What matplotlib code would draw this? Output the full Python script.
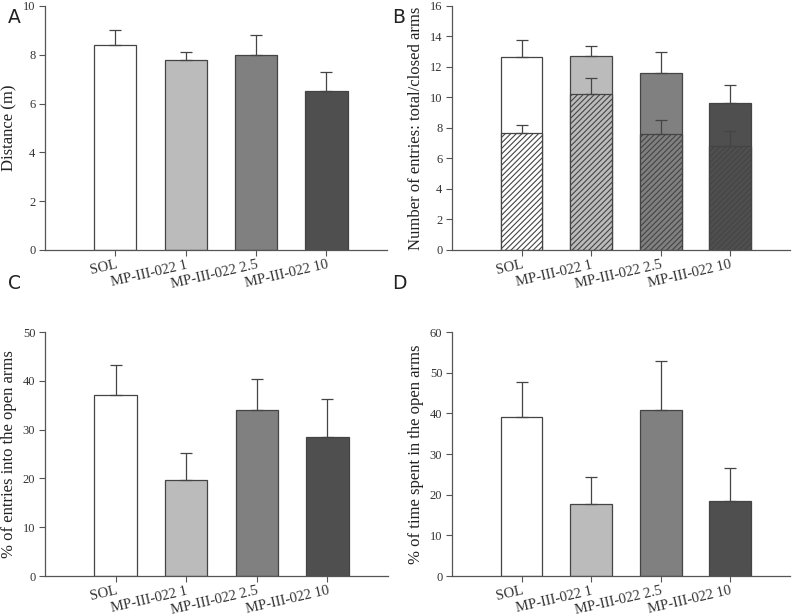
import matplotlib
matplotlib.use("Agg")
import matplotlib.pyplot as plt
import numpy as np

plt.rcParams['hatch.linewidth'] = 0.8

categories = ["SOL", "MP-III-022 1", "MP-III-022 2.5", "MP-III-022 10"]
colors = ["#ffffff", "#bbbbbb", "#808080", "#4f4f4f"]

dist_mean = [8.4, 7.8, 8.0, 6.5]
dist_top = [9.0, 8.1, 8.8, 7.3]

entries_total = [12.65, 12.7, 11.6, 9.65]
entries_total_top = [13.8, 13.4, 13.0, 10.8]
entries_closed = [7.65, 10.25, 7.6, 6.8]
entries_closed_top = [8.2, 11.25, 8.55, 7.8]

open_entries = [37.0, 19.7, 34.0, 28.5]
open_entries_top = [43.2, 25.3, 40.4, 36.3]

open_time = [39.2, 17.8, 40.9, 18.5]
open_time_top = [47.6, 24.3, 52.8, 26.6]

fig = plt.figure(figsize=(8.0, 6.16), dpi=100)
edge = "#444444"
tickc = "#333333"
serif = "Liberation Serif"

def style(ax, ylim, yticks, ylabel, letter, lx, ly):
    x = np.arange(len(categories))
    ax.set_xlim(-1.0, 3.86)
    ax.set_ylim(*ylim)
    ax.set_yticks(yticks)
    ax.set_yticklabels([str(t) for t in yticks], fontfamily=serif, fontsize=9, color=tickc)
    ax.set_xticks(x)
    ax.set_xticklabels(categories, fontfamily=serif, fontsize=10.5, color=tickc,
                       rotation=13, ha="right", rotation_mode="anchor")
    for s in ["top", "right"]:
        ax.spines[s].set_visible(False)
    for s in ["left", "bottom"]:
        ax.spines[s].set_color("#555555")
        ax.spines[s].set_linewidth(0.9)
    ax.tick_params(direction="out", length=4, width=0.8, color="#555555", pad=3)
    ax.tick_params(axis="x", pad=2)
    ax.set_ylabel(ylabel, fontfamily=serif, fontsize=12, color="#222222", labelpad=4)
    fig.text(lx, ly, letter, fontfamily="DejaVu Sans", fontsize=13.5, color="#222222",
             ha="left", va="top")

def bars(ax, vals, tops, hatch=None, fill=True):
    x = np.arange(len(categories))
    err = [t - v for t, v in zip(tops, vals)]
    ax.bar(x, vals, width=0.6, color=colors if fill else "none", edgecolor=edge,
           linewidth=0.9, hatch=hatch, zorder=2)
    ax.errorbar(x, vals, yerr=[[0] * len(vals), err], fmt="none", ecolor=edge,
                elinewidth=0.9, capsize=4, capthick=0.9, zorder=3)

axA = fig.add_axes([0.05625, 0.5942, 0.4275, 0.3961])
bars(axA, dist_mean, dist_top)
style(axA, (0, 10), [0, 2, 4, 6, 8, 10], "Distance (m)", "A", 0.010, 0.987)

axB = fig.add_axes([0.565, 0.5942, 0.4225, 0.3961])
bars(axB, entries_total, entries_total_top)
bars(axB, entries_closed, entries_closed_top, hatch="//////")
style(axB, (0, 16), [0, 2, 4, 6, 8, 10, 12, 14, 16],
      "Number of entries: total/closed arms", "B", 0.490, 0.987)

axC = fig.add_axes([0.05625, 0.0649, 0.4288, 0.3961])
bars(axC, open_entries, open_entries_top)
style(axC, (0, 50), [0, 10, 20, 30, 40, 50], "% of entries into the open arms",
      "C", 0.010, 0.555)

axD = fig.add_axes([0.565, 0.0649, 0.4225, 0.3961])
bars(axD, open_time, open_time_top)
style(axD, (0, 60), [0, 10, 20, 30, 40, 50, 60], "% of time spent in the open arms",
      "D", 0.490, 0.555)

fig.savefig("out.png", dpi=100)
